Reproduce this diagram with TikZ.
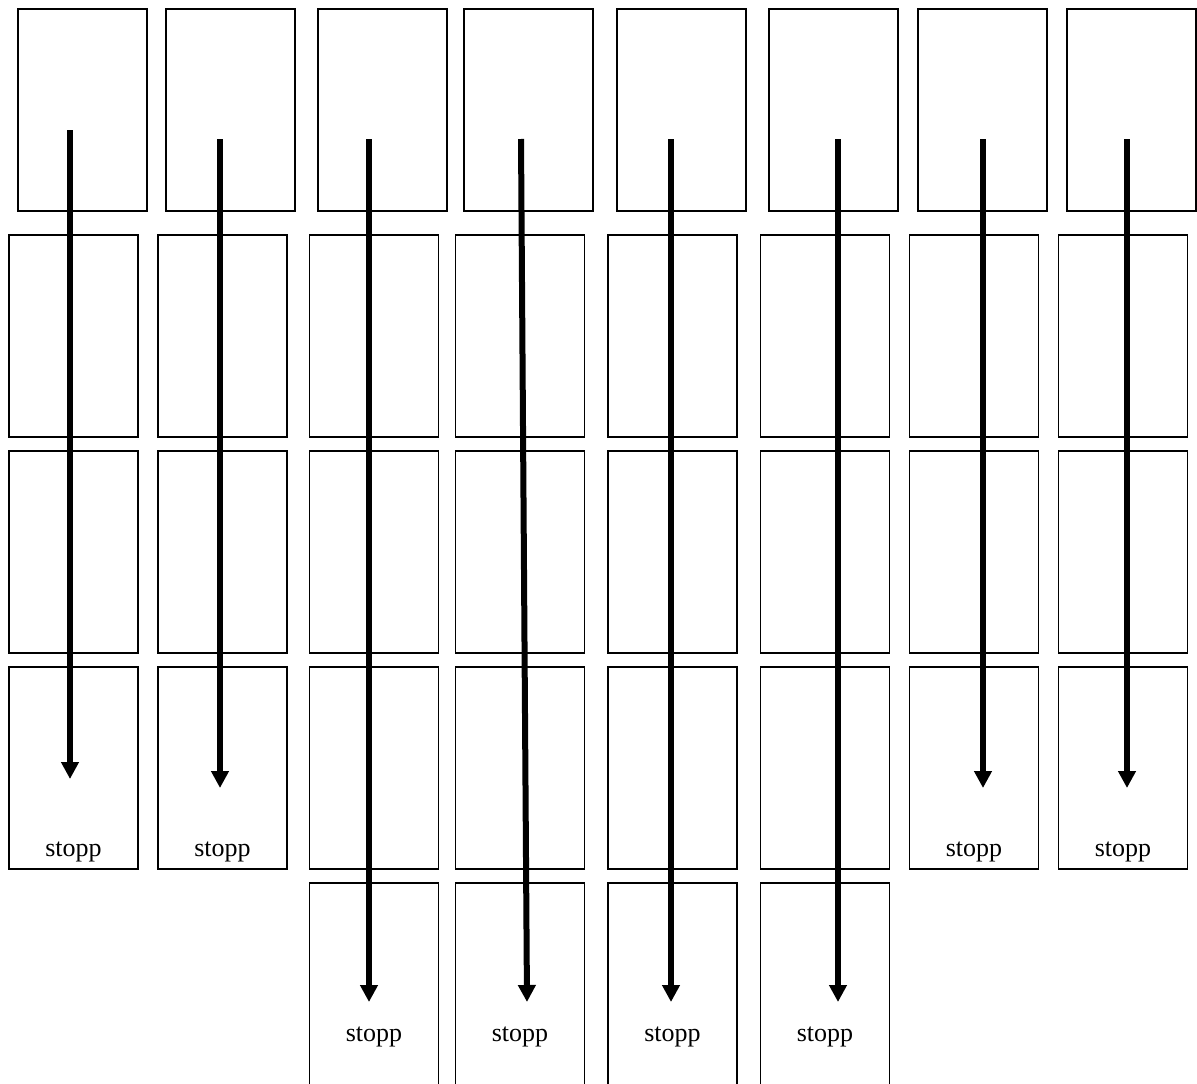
\documentclass[tikz,border=0pt]{standalone}
\usepackage{fontspec}
\setmainfont{Liberation Serif}
\usetikzlibrary{arrows.meta}
\begin{document}
\begin{tikzpicture}[x=1pt,y=-1pt,
  box/.style={draw=black,line width=1.4pt,minimum width=129pt,minimum height=202pt,inner sep=0pt,fill=white},
  flow/.style={line width=6pt,-{Triangle[length=17pt,width=17pt]}},
  lbl/.style={anchor=base,font=\fontsize{26}{30}\selectfont,inner sep=0pt}]
\useasboundingbox[fill=white] (0,0) rectangle (1197,1084);
% top row
\foreach \i/\x in {1/82.5,2/230.5,3/382.5,4/528.5,5/681.5,6/833.5,7/982.5,8/1131.5}
  \node[box] (t\i) at (\x,110) {};
% rows 2-4
\foreach \i/\x in {1/73.5,2/222.5,3/374,4/520,5/672.5,6/825,7/974,8/1123}{
  \node[box] (a\i) at (\x,336) {};
  \node[box] (b\i) at (\x,552) {};
  \node[box] (c\i) at (\x,768) {};
}
% row 5
\foreach \i/\x in {3/374,4/520,5/672.5,6/825}
  \node[box] (d\i) at (\x,984) {};
% labels
\foreach \i/\x in {1/73.5,2/222.5,7/974,8/1123}
  \node[lbl] (s\i) at (\x,856) {stopp};
\foreach \i/\x in {3/374,4/520,5/672.5,6/825}
  \node[lbl] (s\i) at (\x,1041) {stopp};
% arrow endpoints
\coordinate (p1) at (70,130);   \coordinate (q1) at (70,779);
\coordinate (p2) at (220,139);  \coordinate (q2) at (220,788);
\coordinate (p3) at (369,139);  \coordinate (q3) at (369,1002);
\coordinate (p4) at (521,139);  \coordinate (q4) at (527,1002);
\coordinate (p5) at (671,139);  \coordinate (q5) at (671,1002);
\coordinate (p6) at (838,139);  \coordinate (q6) at (838,1002);
\coordinate (p7) at (983,139);  \coordinate (q7) at (983,788);
\coordinate (p8) at (1127,139); \coordinate (q8) at (1127,788);
\foreach \i in {1,...,8}
  \draw[flow] (p\i) -- (q\i);
\end{tikzpicture}
\end{document}
